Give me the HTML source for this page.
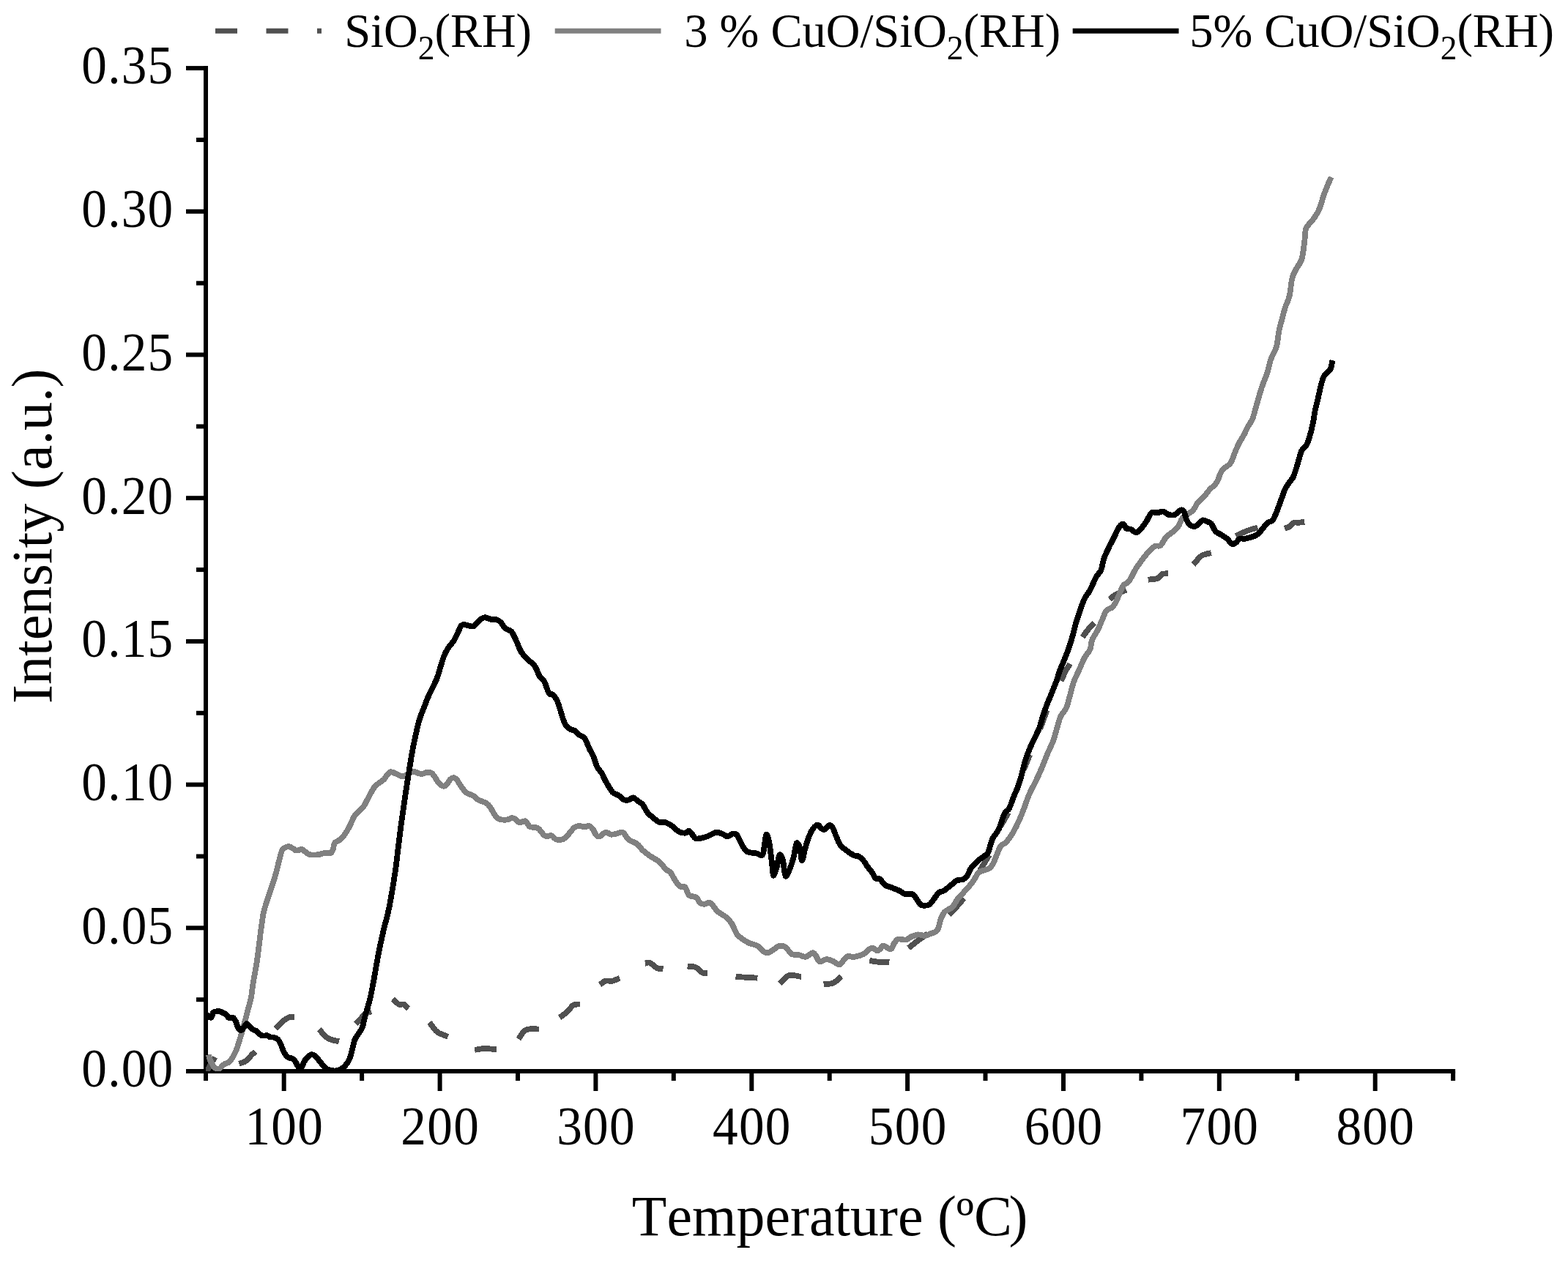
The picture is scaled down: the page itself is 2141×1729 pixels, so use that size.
<!DOCTYPE html>
<html lang="en"><head><meta charset="utf-8"><title>TPR profiles</title>
<style>html,body{margin:0;padding:0;background:#fff}body{width:2141px;height:1729px;overflow:hidden}svg{display:block}</style>
</head><body>
<svg width="2141" height="1729" viewBox="0 0 2141 1729">
<rect width="2141" height="1729" fill="#fff"/>
<g stroke="#000" stroke-width="6" fill="none" stroke-linecap="butt">
<line x1="281.0" y1="90.1" x2="281.0" y2="1466.0"/>
<line x1="278.0" y1="1463.0" x2="1987.1" y2="1463.0"/>
<line x1="254.0" y1="1463.0" x2="281.0" y2="1463.0"/>
<line x1="268.0" y1="1365.2" x2="281.0" y2="1365.2"/>
<line x1="254.0" y1="1267.3" x2="281.0" y2="1267.3"/>
<line x1="268.0" y1="1169.5" x2="281.0" y2="1169.5"/>
<line x1="254.0" y1="1071.6" x2="281.0" y2="1071.6"/>
<line x1="268.0" y1="973.8" x2="281.0" y2="973.8"/>
<line x1="254.0" y1="875.9" x2="281.0" y2="875.9"/>
<line x1="268.0" y1="778.1" x2="281.0" y2="778.1"/>
<line x1="254.0" y1="680.2" x2="281.0" y2="680.2"/>
<line x1="268.0" y1="582.4" x2="281.0" y2="582.4"/>
<line x1="254.0" y1="484.5" x2="281.0" y2="484.5"/>
<line x1="268.0" y1="386.7" x2="281.0" y2="386.7"/>
<line x1="254.0" y1="288.8" x2="281.0" y2="288.8"/>
<line x1="268.0" y1="191.0" x2="281.0" y2="191.0"/>
<line x1="254.0" y1="93.1" x2="281.0" y2="93.1"/>
<line x1="281.0" y1="1463.0" x2="281.0" y2="1476.0"/>
<line x1="387.7" y1="1463.0" x2="387.7" y2="1490.0"/>
<line x1="494.1" y1="1463.0" x2="494.1" y2="1476.0"/>
<line x1="600.6" y1="1463.0" x2="600.6" y2="1490.0"/>
<line x1="707.0" y1="1463.0" x2="707.0" y2="1476.0"/>
<line x1="813.4" y1="1463.0" x2="813.4" y2="1490.0"/>
<line x1="919.8" y1="1463.0" x2="919.8" y2="1476.0"/>
<line x1="1026.3" y1="1463.0" x2="1026.3" y2="1490.0"/>
<line x1="1132.7" y1="1463.0" x2="1132.7" y2="1476.0"/>
<line x1="1239.1" y1="1463.0" x2="1239.1" y2="1490.0"/>
<line x1="1345.5" y1="1463.0" x2="1345.5" y2="1476.0"/>
<line x1="1452.0" y1="1463.0" x2="1452.0" y2="1490.0"/>
<line x1="1558.4" y1="1463.0" x2="1558.4" y2="1476.0"/>
<line x1="1664.8" y1="1463.0" x2="1664.8" y2="1490.0"/>
<line x1="1771.2" y1="1463.0" x2="1771.2" y2="1476.0"/>
<line x1="1877.7" y1="1463.0" x2="1877.7" y2="1490.0"/>
<line x1="1984.1" y1="1463.0" x2="1984.1" y2="1476.0"/>
</g>
<clipPath id="plot"><rect x="281.0" y="0" width="1860.0" height="1463.0"/></clipPath>
<g fill="none" stroke-linejoin="round" stroke-width="7.8" clip-path="url(#plot)" shape-rendering="crispEdges">
<g stroke="#505050" stroke-linecap="butt">
<path d="M293.4,1443.7 L282.4,1463.1"/>
<path d="M326.5,1452.7C327.9,1452.2 332.6,1450.8 334.7,1449.7C336.8,1448.6 337.7,1447.4 339.2,1445.9C340.7,1444.4 342.1,1442.3 343.7,1440.7C345.3,1439.1 347.8,1437.0 348.6,1436.2"/>
<path d="M376.6,1404.8C377.7,1403.6 380.9,1399.6 383.3,1397.4C385.7,1395.2 388.6,1392.8 390.8,1391.4C393.1,1390.0 394.9,1389.2 396.8,1388.8C398.7,1388.4 401.1,1389.0 402.0,1389.1"/>
<path d="M435.9,1406.0C437.9,1408.0 443.7,1415.5 448.2,1418.2C452.7,1420.9 460.4,1421.6 462.9,1422.3"/>
<path d="M485.8,1398.6C488.0,1396.3 495.4,1387.5 498.9,1384.7C502.4,1381.9 505.6,1382.0 507.0,1381.5"/>
<path d="M536.5,1364.3C537.9,1365.5 542.1,1370.4 544.6,1371.6C547.1,1372.8 549.0,1370.6 551.2,1371.6C553.4,1372.6 556.6,1376.4 557.7,1377.4"/>
<path d="M586.5,1396.2C588.2,1398.4 592.6,1405.9 596.8,1409.2C601.0,1412.5 609.3,1414.7 611.8,1415.8"/>
<path d="M648.2,1433.9C650.5,1433.6 657.2,1432.1 662.2,1432.0C667.2,1431.9 675.5,1433.2 678.1,1433.5"/>
<path d="M708.0,1419.0C709.7,1416.9 713.6,1408.7 718.3,1406.4C723.0,1404.2 733.0,1405.7 736.0,1405.5"/>
<path d="M764.0,1389.6C765.7,1388.4 771.2,1385.0 774.3,1382.2C777.4,1379.4 779.7,1374.6 782.7,1372.8C785.7,1371.0 790.5,1371.7 792.1,1371.5"/>
<path d="M819.1,1344.8C820.4,1344.0 823.8,1340.5 826.6,1339.7C829.4,1338.9 832.7,1340.3 836.0,1339.7C839.3,1339.1 844.5,1336.6 846.2,1336.0"/>
<path d="M880.8,1315.8C881.9,1315.7 884.5,1313.8 887.3,1314.9C890.1,1316.0 894.6,1321.0 897.6,1322.4C900.6,1323.8 904.2,1323.2 905.5,1323.3"/>
<path d="M938.7,1319.6C940.6,1319.8 946.5,1319.6 949.9,1321.1C953.3,1322.6 956.5,1327.3 959.3,1328.5C962.0,1329.7 965.2,1328.5 966.4,1328.5"/>
<path d="M1004.5,1333.9 L1034.4,1335.7"/>
<path d="M1064.9,1343.3C1066.9,1341.4 1072.3,1333.6 1077.1,1332.1C1081.9,1330.5 1091.1,1333.7 1093.9,1334.0"/>
<path d="M1124.7,1344.3C1126.9,1344.0 1133.8,1344.2 1137.8,1342.4C1141.8,1340.6 1147.1,1335.1 1149.0,1333.6"/>
<path d="M1187.3,1311.9C1189.3,1312.2 1195.0,1313.4 1199.5,1313.8C1204.0,1314.2 1211.9,1314.3 1214.4,1314.4"/>
<path d="M1240.6,1294.7C1242.8,1293.0 1249.2,1287.8 1253.6,1284.5C1257.9,1281.2 1264.5,1276.7 1266.7,1275.1"/>
<path d="M1295.7,1249.0C1297.4,1247.3 1302.6,1242.4 1306.0,1238.7C1309.4,1235.0 1314.5,1228.6 1316.2,1226.6"/>
<path d="M1337.7,1189.2 L1350.8,1167.7"/>
<path d="M1366.3,1128.5 L1377.0,1109.8"/>
<path d="M1397.7,1051.5 L1406.2,1030.9"/>
<path d="M1420.2,995.4 L1429.5,970.2"/>
<path d="M1449.1,930.0C1450.0,927.8 1452.7,920.8 1454.7,916.9C1456.7,913.0 1460.2,908.4 1461.3,906.7"/>
<path d="M1478.1,870.2C1479.3,868.5 1482.9,863.3 1485.6,860.0C1488.2,856.7 1492.6,852.2 1494.0,850.6"/>
<path d="M1515.5,818.8C1516.8,817.7 1519.3,814.4 1523.0,812.2C1526.7,810.0 1535.4,806.8 1537.9,805.7"/>
<path d="M1567.8,791.7C1570.0,791.4 1577.8,791.0 1580.9,789.8C1584.0,788.5 1584.2,785.3 1586.5,784.2C1588.8,783.1 1593.5,783.4 1594.9,783.3"/>
<path d="M1629.5,771.1C1631.4,769.1 1636.7,761.6 1640.7,759.0C1644.8,756.4 1651.6,755.8 1653.8,755.2"/>
<path d="M1687.4,731.9C1690.2,730.6 1699.2,726.3 1704.2,724.4C1709.2,722.5 1715.1,721.3 1717.3,720.7"/>
<path d="M1754.0,721.7C1755.1,721.3 1758.3,720.7 1760.5,719.4C1762.7,718.1 1764.8,714.7 1767.0,713.8C1769.2,712.9 1771.2,714.0 1773.6,713.8C1775.9,713.6 1779.8,712.9 1781.1,712.7"/>
</g>
<path stroke="#808080" d="M285.0,1440.3C285.2,1441.4 285.7,1444.5 286.5,1446.7C287.3,1448.9 288.8,1451.5 289.9,1453.4C291.0,1455.3 291.8,1456.8 292.9,1457.9C294.0,1459.0 295.4,1459.6 296.6,1459.8C297.9,1460.0 299.0,1459.9 300.4,1459.0C301.8,1458.1 303.4,1455.6 304.8,1454.5C306.2,1453.4 307.2,1453.0 308.6,1452.3C310.0,1451.6 311.6,1451.7 313.1,1450.4C314.6,1449.1 316.1,1446.6 317.5,1444.4C318.9,1442.2 320.2,1439.5 321.3,1437.0C322.4,1434.5 323.3,1432.4 324.3,1429.5C325.3,1426.6 326.3,1423.2 327.3,1419.8C328.3,1416.4 329.5,1412.8 330.5,1409.3C331.5,1405.8 332.4,1402.5 333.4,1398.9C334.4,1395.3 335.2,1391.7 336.3,1387.7C337.4,1383.7 338.5,1379.5 339.7,1374.9C340.9,1370.3 342.4,1365.2 343.3,1360.0C344.2,1354.8 344.2,1351.5 345.4,1343.9C346.6,1336.3 349.2,1323.4 350.6,1314.4C352.0,1305.4 352.7,1298.6 353.8,1289.9C354.9,1281.2 356.1,1270.3 357.4,1262.1C358.6,1253.9 358.4,1251.4 361.3,1240.9C364.2,1230.4 371.8,1209.6 375.0,1198.9C378.2,1188.2 379.1,1182.7 380.8,1176.5C382.5,1170.3 383.6,1164.8 385.0,1161.6C386.4,1158.4 387.8,1158.3 389.4,1157.4C391.0,1156.5 393.1,1156.1 394.9,1156.3C396.7,1156.5 398.5,1157.9 400.1,1158.8C401.7,1159.7 402.7,1161.4 404.7,1161.6C406.7,1161.8 410.2,1159.8 412.2,1160.1C414.2,1160.4 415.0,1162.2 416.9,1163.4C418.8,1164.6 420.4,1166.6 423.4,1167.2C426.3,1167.8 431.5,1167.5 434.6,1167.2C437.7,1166.9 439.3,1165.7 442.1,1165.3C444.9,1164.9 449.3,1165.8 451.4,1164.9C453.5,1164.0 453.9,1162.0 454.8,1159.7C455.7,1157.4 455.4,1153.5 457.0,1151.3C458.6,1149.1 462.1,1148.6 464.5,1146.6C466.9,1144.6 468.9,1142.2 471.1,1139.1C473.3,1136.0 475.6,1131.8 477.6,1127.9C479.6,1124.0 481.2,1119.1 483.2,1115.8C485.2,1112.5 487.5,1110.6 489.7,1108.3C491.9,1106.0 494.3,1104.6 496.3,1101.8C498.3,1099.0 499.9,1095.2 501.9,1091.5C503.9,1087.8 506.7,1082.4 508.4,1079.4C510.1,1076.5 510.6,1075.5 512.2,1073.8C513.8,1072.1 515.8,1070.7 517.8,1069.1C519.8,1067.5 522.4,1066.3 524.3,1064.4C526.2,1062.5 527.5,1059.6 529.0,1057.9C530.5,1056.2 531.6,1054.3 533.6,1054.1C535.6,1053.9 538.6,1055.9 541.1,1056.9C543.6,1057.9 546.4,1060.0 548.6,1060.3C550.8,1060.6 552.3,1059.6 554.2,1058.8C556.1,1058.0 557.9,1056.3 559.8,1055.4C561.7,1054.5 563.5,1053.5 565.4,1053.6C567.3,1053.7 569.1,1055.5 571.0,1056.0C572.9,1056.5 574.7,1057.1 576.6,1056.9C578.5,1056.8 580.2,1055.3 582.2,1055.1C584.2,1054.8 586.9,1054.5 588.8,1055.4C590.7,1056.3 591.7,1058.4 593.4,1060.7C595.1,1063.0 597.0,1066.9 599.0,1069.1C601.0,1071.3 603.7,1073.5 605.6,1073.8C607.5,1074.1 608.7,1072.5 610.2,1070.9C611.8,1069.3 613.5,1065.9 614.9,1064.4C616.3,1063.0 617.3,1062.2 618.7,1062.2C620.1,1062.2 621.6,1062.6 623.3,1064.4C625.0,1066.2 626.7,1069.8 628.9,1072.8C631.1,1075.8 633.6,1079.9 636.4,1082.2C639.2,1084.5 642.9,1084.8 645.7,1086.5C648.5,1088.2 650.1,1090.6 653.2,1092.4C656.3,1094.2 661.6,1095.2 664.4,1097.1C667.2,1099.0 668.1,1100.9 670.0,1103.6C671.9,1106.2 673.7,1110.5 675.6,1113.0C677.5,1115.5 678.4,1117.5 681.2,1118.6C684.0,1119.7 689.4,1119.8 692.4,1119.5C695.4,1119.2 697.1,1117.2 699.0,1117.1C700.9,1116.9 702.0,1117.6 703.7,1118.6C705.4,1119.6 707.0,1122.8 709.3,1123.3C711.6,1123.8 715.4,1120.5 717.7,1121.4C720.0,1122.3 720.5,1127.3 723.3,1128.9C726.1,1130.5 731.2,1129.1 734.6,1131.2C738.0,1133.3 740.8,1139.7 743.9,1141.4C747.0,1143.1 750.7,1140.6 753.2,1141.4C755.7,1142.2 756.9,1145.2 758.9,1146.1C760.9,1147.0 763.2,1147.3 765.4,1147.0C767.6,1146.7 769.7,1145.9 771.9,1144.2C774.1,1142.5 776.5,1139.1 778.5,1136.8C780.5,1134.5 782.1,1131.7 784.1,1130.2C786.1,1128.7 788.3,1128.2 790.6,1128.0C792.9,1127.8 795.8,1129.3 798.1,1129.3C800.4,1129.3 802.7,1127.5 804.6,1128.0C806.5,1128.5 807.7,1130.0 809.3,1132.1C810.9,1134.2 812.5,1138.8 814.0,1140.5C815.5,1142.2 816.4,1143.0 818.6,1142.4C820.8,1141.8 824.4,1137.3 827.0,1136.8C829.6,1136.3 832.0,1139.3 834.5,1139.6C837.0,1139.9 839.4,1139.1 842.0,1138.6C844.6,1138.1 847.6,1135.4 850.4,1136.8C853.2,1138.2 855.5,1144.4 858.8,1147.0C862.1,1149.6 866.9,1150.2 870.0,1152.6C873.1,1154.9 874.7,1158.4 877.5,1161.1C880.3,1163.8 883.1,1165.9 886.8,1168.5C890.5,1171.1 896.2,1173.8 899.9,1176.9C903.6,1180.0 906.6,1184.7 909.2,1187.2C911.9,1189.7 913.6,1189.2 915.8,1191.9C918.0,1194.6 920.1,1200.0 922.3,1203.1C924.5,1206.2 926.7,1209.2 928.9,1210.6C931.1,1212.0 933.4,1209.5 935.4,1211.5C937.4,1213.5 938.5,1220.4 941.0,1222.7C943.5,1225.0 947.9,1223.8 950.4,1225.5C952.9,1227.2 954.1,1231.4 956.0,1233.0C957.9,1234.6 959.3,1234.8 961.6,1234.9C963.9,1235.0 966.9,1231.7 970.0,1233.4C973.1,1235.1 976.6,1241.9 980.2,1245.1C983.8,1248.3 988.4,1249.9 991.5,1252.6C994.6,1255.2 996.4,1257.1 998.9,1261.0C1001.4,1264.9 1003.9,1272.4 1006.4,1276.0C1008.9,1279.6 1011.1,1280.5 1013.9,1282.5C1016.7,1284.5 1019.8,1286.5 1023.2,1288.1C1026.6,1289.6 1031.0,1289.8 1034.4,1291.8C1037.8,1293.8 1041.3,1298.6 1043.8,1300.2C1046.3,1301.8 1047.2,1301.8 1049.4,1301.2C1051.6,1300.6 1054.3,1298.1 1056.8,1296.5C1059.3,1294.9 1061.6,1292.3 1064.3,1291.8C1067.0,1291.3 1069.9,1291.8 1072.7,1293.7C1075.5,1295.6 1078.1,1301.3 1081.1,1303.0C1084.1,1304.7 1087.3,1303.4 1090.5,1304.0C1093.7,1304.6 1096.8,1307.2 1100.0,1306.8C1103.2,1306.3 1107.4,1301.4 1109.8,1301.3C1112.2,1301.2 1113.0,1304.0 1114.5,1306.0C1116.0,1308.0 1116.8,1312.7 1119.1,1313.4C1121.4,1314.1 1125.5,1310.2 1128.5,1310.1C1131.5,1309.9 1134.0,1311.3 1136.9,1312.5C1139.9,1313.7 1143.7,1317.4 1146.2,1317.2C1148.7,1317.0 1149.9,1313.5 1151.8,1311.6C1153.7,1309.7 1155.1,1306.8 1157.4,1306.0C1159.7,1305.2 1162.2,1307.4 1165.8,1306.9C1169.4,1306.4 1175.5,1304.9 1178.9,1303.2C1182.3,1301.5 1184.2,1298.0 1186.4,1296.6C1188.6,1295.2 1190.1,1294.4 1192.0,1294.7C1193.9,1295.0 1195.9,1298.3 1197.6,1298.5C1199.3,1298.7 1200.9,1296.9 1202.3,1295.7C1203.7,1294.5 1203.7,1291.3 1206.0,1291.4C1208.3,1291.5 1213.8,1296.7 1216.3,1296.2C1218.8,1295.7 1219.2,1290.5 1220.9,1288.2C1222.6,1285.9 1223.9,1283.4 1226.6,1282.6C1229.2,1281.8 1233.8,1284.0 1236.8,1283.5C1239.8,1283.0 1241.5,1280.6 1244.3,1279.4C1247.1,1278.2 1250.5,1276.7 1253.6,1276.4C1256.7,1276.2 1260.2,1278.1 1263.0,1277.9C1265.8,1277.7 1267.7,1276.3 1270.5,1275.1C1273.3,1273.9 1277.5,1273.8 1279.8,1270.5C1282.1,1267.2 1282.8,1259.7 1284.5,1255.5C1286.2,1251.3 1287.4,1248.0 1290.1,1245.2C1292.8,1242.4 1297.5,1241.7 1300.4,1238.7C1303.4,1235.8 1305.0,1231.1 1307.8,1227.5C1310.6,1223.9 1313.8,1221.1 1317.2,1217.2C1320.6,1213.3 1325.3,1208.3 1328.4,1204.1C1331.5,1199.9 1333.6,1194.5 1335.8,1192.0C1338.0,1189.5 1339.0,1190.2 1341.5,1189.2C1344.0,1188.2 1348.3,1187.7 1350.8,1186.0C1353.3,1184.3 1353.9,1183.8 1356.4,1178.9C1358.9,1174.0 1362.9,1161.2 1365.7,1156.5C1368.5,1151.8 1370.6,1153.7 1373.2,1150.9C1375.8,1148.1 1378.8,1144.2 1381.6,1139.7C1384.4,1135.2 1387.3,1129.4 1390.0,1123.8C1392.7,1118.2 1395.0,1112.4 1397.5,1106.0C1400.0,1099.6 1402.2,1092.0 1405.0,1085.5C1407.8,1079.0 1411.3,1073.1 1414.3,1066.8C1417.3,1060.5 1420.3,1054.0 1423.0,1047.7C1425.7,1041.4 1427.9,1034.9 1430.4,1029.0C1432.9,1023.1 1435.7,1018.1 1437.9,1012.2C1440.1,1006.3 1441.8,999.1 1443.5,993.5C1445.2,987.9 1446.2,983.0 1448.2,978.6C1450.2,974.2 1453.7,971.8 1455.7,967.4C1457.7,963.0 1458.6,958.3 1460.3,952.4C1462.0,946.5 1463.7,938.1 1465.9,931.9C1468.1,925.7 1470.9,920.7 1473.4,915.1C1475.9,909.5 1478.4,903.0 1480.9,898.3C1483.4,893.6 1486.7,891.0 1488.4,887.0C1490.1,883.0 1489.3,878.7 1491.2,874.0C1493.1,869.3 1497.3,863.7 1499.6,859.0C1501.9,854.3 1503.3,850.1 1505.2,845.9C1507.1,841.7 1508.5,836.6 1510.8,833.8C1513.1,831.0 1516.9,831.4 1519.2,829.1C1521.5,826.8 1522.9,823.5 1524.8,819.8C1526.7,816.0 1528.8,810.0 1530.4,806.6C1532.0,803.2 1532.3,801.3 1534.2,799.1C1536.1,796.9 1538.9,797.2 1541.7,793.5C1544.5,789.8 1547.9,781.7 1551.0,776.7C1554.1,771.7 1557.5,767.3 1560.3,763.6C1563.1,759.9 1565.0,757.2 1567.8,754.3C1570.6,751.3 1574.4,747.4 1577.2,745.9C1580.0,744.4 1582.1,747.0 1584.6,745.0C1587.1,743.0 1589.3,736.9 1592.1,733.8C1594.9,730.7 1598.6,728.8 1601.4,726.3C1604.2,723.8 1606.7,721.9 1608.9,718.8C1611.1,715.7 1612.3,710.4 1614.5,707.6C1616.7,704.8 1619.5,703.9 1622.0,702.0C1624.5,700.1 1627.3,698.9 1629.5,696.4C1631.7,693.9 1632.6,690.1 1635.1,687.0C1637.6,683.9 1641.6,680.8 1644.4,677.7C1647.2,674.6 1649.1,671.5 1651.9,668.4C1654.7,665.3 1658.4,663.4 1661.2,659.0C1664.0,654.6 1665.6,646.6 1668.7,642.2C1671.8,637.9 1677.1,636.6 1679.9,632.9C1682.7,629.2 1683.6,624.2 1685.5,619.8C1687.4,615.4 1688.9,611.1 1691.1,606.7C1693.3,602.3 1696.4,597.7 1698.6,593.6C1700.8,589.5 1702.3,585.8 1704.2,582.4C1706.1,579.0 1708.3,576.3 1709.8,573.1C1711.3,569.9 1711.7,567.5 1713.0,563.0C1714.3,558.5 1716.0,552.3 1717.7,546.4C1719.4,540.5 1721.3,533.6 1723.3,527.7C1725.3,521.8 1727.8,517.1 1729.8,510.9C1731.8,504.7 1733.2,496.6 1735.4,490.4C1737.6,484.2 1741.0,480.1 1742.9,473.5C1744.8,466.9 1745.3,457.3 1746.6,451.1C1747.8,444.9 1749.0,441.5 1750.4,436.2C1751.8,430.9 1753.3,424.7 1755.0,419.4C1756.7,414.1 1759.0,410.9 1760.6,404.4C1762.2,397.8 1762.8,386.3 1764.4,380.1C1766.0,373.9 1767.8,371.4 1770.0,367.0C1772.2,362.6 1775.5,360.2 1777.4,354.0C1779.3,347.8 1780.3,336.6 1781.2,329.7C1782.1,322.8 1781.8,317.1 1783.0,312.9C1784.2,308.7 1786.8,307.0 1788.7,304.5C1790.6,302.0 1792.1,301.2 1794.3,297.9C1796.5,294.6 1799.4,290.4 1801.7,284.8C1804.0,279.2 1805.7,271.4 1808.3,264.3C1810.9,257.2 1816.0,245.6 1817.6,241.9"/>
<path stroke="#000" d="M280.9,1384.7C281.5,1385.2 283.6,1386.8 284.7,1387.7C285.8,1388.6 286.8,1390.0 287.7,1389.9C288.6,1389.8 289.3,1388.2 289.9,1386.9C290.5,1385.7 290.4,1383.3 291.4,1382.4C292.4,1381.5 294.4,1381.5 295.9,1381.3C297.4,1381.1 298.9,1380.9 300.4,1381.3C301.9,1381.7 303.3,1382.8 304.8,1383.5C306.3,1384.2 308.1,1384.7 309.3,1385.8C310.6,1386.9 310.8,1389.2 312.3,1389.9C313.8,1390.6 316.7,1389.0 318.3,1389.9C319.9,1390.8 321.0,1393.1 322.0,1395.1C323.0,1397.1 323.4,1399.9 324.3,1401.8C325.2,1403.7 326.3,1405.5 327.3,1406.3C328.3,1407.1 329.1,1407.5 330.2,1406.7C331.3,1406.0 332.9,1403.2 334.0,1401.8C335.1,1400.4 335.9,1398.1 337.0,1398.1C338.1,1398.1 339.2,1400.4 340.7,1401.8C342.2,1403.2 344.3,1405.2 345.9,1406.3C347.5,1407.4 348.6,1407.0 350.4,1408.2C352.1,1409.5 354.8,1412.7 356.4,1413.8C358.0,1414.9 358.7,1414.5 360.1,1414.6C361.5,1414.7 363.1,1413.9 364.6,1414.2C366.1,1414.5 367.5,1416.0 369.1,1416.4C370.7,1416.8 372.6,1416.2 374.3,1416.8C376.1,1417.4 378.1,1418.3 379.6,1419.8C381.1,1421.3 382.2,1423.4 383.3,1425.8C384.4,1428.2 385.2,1431.5 386.3,1434.0C387.4,1436.5 388.8,1439.0 390.0,1440.7C391.2,1442.4 392.4,1443.7 393.8,1444.4C395.2,1445.2 396.8,1444.5 398.3,1445.2C399.8,1446.0 401.3,1447.2 402.7,1448.9C404.1,1450.7 405.4,1453.8 406.5,1455.7C407.6,1457.6 408.4,1460.6 409.5,1460.5C410.6,1460.4 412.0,1457.1 413.2,1454.9C414.4,1452.7 414.9,1449.8 416.9,1447.4C418.9,1445.0 422.8,1440.9 425.3,1440.3C427.8,1439.7 429.6,1441.7 431.8,1443.6C434.0,1445.5 436.2,1449.2 438.4,1451.8C440.6,1454.4 442.7,1457.5 444.9,1459.1C447.1,1460.7 449.3,1461.0 451.5,1461.6C453.7,1462.1 455.6,1462.7 458.0,1462.4C460.4,1462.1 463.5,1461.7 466.2,1459.9C468.9,1458.1 472.1,1455.1 474.3,1451.8C476.5,1448.5 477.6,1445.5 479.2,1440.3C480.8,1435.1 482.5,1425.3 484.2,1420.7C485.9,1416.1 487.3,1415.5 489.1,1412.5C490.9,1409.5 493.2,1407.0 494.8,1402.7C496.4,1398.4 497.1,1392.9 498.9,1386.4C500.7,1379.9 503.5,1371.4 505.4,1363.5C507.3,1355.6 508.5,1348.5 510.3,1339.0C512.1,1329.5 513.9,1317.8 516.1,1306.3C518.3,1294.8 521.2,1281.2 523.7,1270.3C526.2,1259.4 528.5,1254.0 531.1,1240.9C533.7,1227.8 537.4,1205.3 539.5,1191.5C541.6,1177.7 542.3,1169.0 543.7,1157.8C545.1,1146.6 546.5,1135.1 548.0,1124.2C549.5,1113.3 551.0,1102.7 552.5,1092.4C554.0,1082.1 555.5,1072.8 557.1,1062.5C558.7,1052.2 560.5,1040.5 562.2,1030.8C563.9,1021.1 565.6,1012.7 567.4,1004.6C569.2,996.5 571.0,988.4 572.9,982.2C574.8,976.0 576.3,972.9 578.5,967.3C580.7,961.7 583.0,955.3 586.0,948.6C589.0,941.9 593.9,933.1 596.4,927.0C598.9,920.9 599.5,917.1 601.1,912.1C602.7,907.1 604.1,901.6 605.8,897.2C607.5,892.8 609.1,889.6 611.4,885.9C613.7,882.1 617.5,878.4 619.8,874.7C622.1,871.0 623.7,866.9 625.4,863.5C627.1,860.1 628.5,855.9 630.1,854.2C631.7,852.5 632.7,853.1 634.7,853.2C636.7,853.4 640.2,854.8 642.2,855.1C644.2,855.4 645.2,856.0 646.9,855.1C648.6,854.2 650.6,851.3 652.5,849.5C654.4,847.7 656.4,845.5 658.1,844.5C659.8,843.5 660.8,843.1 662.8,843.3C664.8,843.5 667.7,845.3 670.2,845.8C672.7,846.3 675.5,845.7 677.7,846.3C679.9,846.9 681.3,847.6 683.3,849.5C685.3,851.4 687.3,855.7 689.8,857.9C692.3,860.1 695.9,860.1 698.3,862.6C700.6,865.1 701.7,868.4 703.9,872.9C706.1,877.4 708.8,885.4 711.3,889.7C713.8,894.1 715.7,895.7 718.8,899.0C721.9,902.3 727.0,905.2 730.0,909.3C733.0,913.3 734.4,919.7 736.6,923.3C738.8,926.9 740.9,926.9 743.1,930.8C745.3,934.7 747.7,943.8 749.6,946.7C751.5,949.7 752.6,947.1 754.3,948.5C756.0,949.9 758.2,951.8 759.9,955.1C761.6,958.4 763.0,963.4 764.6,968.1C766.2,972.8 767.7,979.1 769.2,983.1C770.8,987.1 772.2,990.2 773.9,992.4C775.6,994.6 777.6,995.3 779.5,996.2C781.4,997.1 783.2,996.8 785.1,998.0C787.0,999.2 788.5,1001.9 790.7,1003.6C792.9,1005.3 795.9,1005.2 798.2,1008.3C800.5,1011.4 802.7,1018.1 804.7,1022.3C806.7,1026.5 808.7,1029.5 810.4,1033.5C812.1,1037.5 813.1,1042.8 815.0,1046.6C816.9,1050.3 819.6,1052.6 821.6,1056.0C823.6,1059.4 824.7,1062.9 827.2,1067.2C829.7,1071.5 833.7,1079.0 836.5,1082.1C839.3,1085.2 841.4,1084.1 844.0,1085.8C846.6,1087.5 849.9,1091.3 852.4,1092.4C854.9,1093.5 856.9,1092.9 858.9,1092.4C860.9,1091.9 862.6,1089.1 864.5,1089.2C866.4,1089.3 867.9,1091.7 870.1,1093.3C872.3,1094.9 875.3,1096.2 877.6,1098.9C879.9,1101.6 881.5,1106.7 884.0,1109.7C886.5,1112.8 889.8,1115.0 892.4,1117.2C895.0,1119.4 897.4,1121.9 899.9,1122.8C902.4,1123.7 904.6,1122.0 907.4,1122.8C910.2,1123.6 913.4,1125.2 916.7,1127.4C920.0,1129.6 923.9,1134.1 927.0,1135.8C930.1,1137.5 933.1,1137.8 935.4,1137.7C937.7,1137.6 939.1,1134.3 941.0,1134.9C942.9,1135.5 944.9,1139.6 946.6,1141.4C948.3,1143.2 948.2,1145.3 951.3,1145.5C954.4,1145.7 960.9,1143.9 965.3,1142.4C969.6,1141.0 974.0,1137.4 977.4,1136.8C980.8,1136.2 983.1,1137.7 985.8,1138.6C988.4,1139.5 990.8,1142.4 993.3,1142.4C995.8,1142.4 998.6,1138.9 1000.8,1138.6C1003.0,1138.3 1004.7,1138.6 1006.4,1140.5C1008.1,1142.4 1009.2,1146.4 1011.1,1149.8C1013.0,1153.2 1015.6,1158.7 1017.6,1161.1C1019.6,1163.5 1020.7,1163.5 1023.2,1164.2C1025.7,1164.9 1029.6,1164.8 1032.6,1165.4C1035.6,1166.0 1039.1,1169.4 1041.0,1167.6C1042.9,1165.8 1042.9,1159.2 1043.8,1154.5C1044.7,1149.8 1045.5,1140.2 1046.6,1139.6C1047.7,1139.0 1049.1,1144.3 1050.3,1150.8C1051.5,1157.3 1053.1,1171.3 1054.0,1178.8C1054.9,1186.3 1054.8,1194.7 1055.9,1195.6C1057.0,1196.5 1059.2,1189.1 1060.6,1184.4C1062.0,1179.7 1062.9,1169.1 1064.3,1167.6C1065.7,1166.0 1067.6,1170.3 1069.0,1175.1C1070.4,1179.9 1071.0,1195.0 1072.7,1196.6C1074.4,1198.1 1077.4,1188.9 1079.3,1184.4C1081.2,1179.9 1082.5,1175.0 1083.9,1169.5C1085.3,1164.0 1086.3,1153.6 1087.7,1151.7C1089.1,1149.8 1091.1,1154.4 1092.3,1158.3C1093.5,1162.2 1093.9,1175.1 1095.1,1175.1C1096.3,1175.1 1098.0,1163.7 1099.5,1158.4C1101.0,1153.1 1102.5,1147.8 1104.2,1143.4C1105.9,1139.0 1107.8,1135.0 1109.8,1132.2C1111.8,1129.4 1114.4,1126.8 1116.3,1126.6C1118.2,1126.3 1119.4,1129.6 1121.0,1130.7C1122.6,1131.8 1123.8,1133.7 1125.7,1133.1C1127.6,1132.5 1130.3,1127.5 1132.2,1127.0C1134.1,1126.5 1135.4,1127.9 1136.9,1130.3C1138.5,1132.7 1139.8,1137.6 1141.5,1141.5C1143.2,1145.4 1144.7,1150.3 1147.2,1153.7C1149.7,1157.1 1153.4,1159.7 1156.5,1162.1C1159.6,1164.5 1163.1,1166.8 1165.8,1168.1C1168.5,1169.3 1170.2,1168.4 1172.4,1169.6C1174.6,1170.8 1176.9,1172.9 1178.9,1175.2C1180.9,1177.5 1182.5,1180.8 1184.5,1183.6C1186.5,1186.4 1189.2,1189.3 1191.1,1192.0C1193.0,1194.7 1194.0,1198.1 1195.7,1199.5C1197.4,1200.9 1199.1,1198.9 1201.3,1200.4C1203.5,1202.0 1206.0,1206.8 1208.8,1208.8C1211.6,1210.8 1215.0,1211.2 1218.1,1212.5C1221.2,1213.8 1224.5,1214.9 1227.5,1216.3C1230.5,1217.7 1233.0,1220.1 1235.9,1220.9C1238.9,1221.7 1242.7,1220.0 1245.2,1220.9C1247.7,1221.9 1248.9,1224.2 1250.8,1226.6C1252.7,1228.9 1254.4,1233.3 1256.4,1235.0C1258.4,1236.7 1260.8,1236.8 1263.0,1236.8C1265.2,1236.8 1267.3,1236.7 1269.5,1235.0C1271.7,1233.3 1274.1,1229.2 1276.1,1226.6C1278.1,1223.9 1279.5,1220.8 1281.7,1219.1C1283.9,1217.4 1286.3,1218.0 1289.1,1216.3C1291.9,1214.6 1295.5,1211.1 1298.5,1208.8C1301.5,1206.5 1304.1,1203.6 1306.9,1202.3C1309.7,1201.0 1313.0,1202.1 1315.3,1201.0C1317.6,1199.9 1319.0,1198.5 1320.9,1195.7C1322.8,1193.0 1324.0,1187.9 1326.5,1184.5C1329.0,1181.1 1333.0,1177.7 1335.8,1175.2C1338.6,1172.7 1341.1,1171.3 1343.3,1169.6C1345.5,1167.9 1347.2,1168.2 1348.9,1164.9C1350.6,1161.6 1352.3,1153.6 1353.6,1150.0C1354.8,1146.4 1354.7,1146.4 1356.4,1143.4C1358.1,1140.4 1361.4,1137.5 1363.9,1132.2C1366.4,1126.9 1369.0,1116.4 1371.3,1111.7C1373.6,1107.0 1375.7,1108.2 1377.9,1104.2C1380.1,1100.2 1382.4,1092.4 1384.4,1087.4C1386.4,1082.4 1388.2,1079.3 1390.0,1074.3C1391.8,1069.3 1393.5,1063.5 1395.2,1057.5C1396.9,1051.5 1398.1,1044.4 1400.0,1038.4C1401.9,1032.4 1404.3,1026.6 1406.4,1021.6C1408.5,1016.6 1410.3,1013.2 1412.5,1008.5C1414.7,1003.8 1417.5,998.5 1419.4,993.5C1421.3,988.5 1422.0,983.9 1423.7,978.6C1425.4,973.3 1427.9,966.5 1429.7,961.8C1431.5,957.1 1432.4,955.6 1434.4,950.6C1436.4,945.6 1439.7,937.8 1441.9,931.9C1444.1,926.0 1445.3,920.7 1447.4,915.1C1449.5,909.5 1452.3,903.6 1454.4,898.3C1456.5,893.0 1458.4,888.0 1460.0,883.3C1461.6,878.6 1462.7,875.2 1464.1,870.2C1465.5,865.2 1466.7,859.3 1468.4,853.4C1470.1,847.5 1472.4,840.6 1474.4,834.7C1476.5,828.8 1478.5,822.6 1480.7,817.9C1483.0,813.2 1485.2,811.7 1487.9,806.7C1490.6,801.7 1494.3,792.6 1496.9,787.9C1499.5,783.2 1501.7,782.6 1503.4,778.6C1505.1,774.6 1505.4,768.6 1507.1,763.6C1508.8,758.6 1511.4,753.4 1513.6,748.7C1515.8,744.0 1518.0,740.0 1520.2,735.6C1522.4,731.2 1525.0,725.6 1526.7,722.5C1528.4,719.4 1529.2,718.0 1530.4,716.9C1531.7,715.8 1533.0,715.2 1534.2,716.0C1535.5,716.8 1536.2,720.5 1537.9,721.6C1539.6,722.8 1542.2,722.0 1544.5,722.9C1546.8,723.8 1549.0,728.2 1551.9,727.2C1554.9,726.2 1559.6,720.2 1562.2,716.9C1564.8,713.6 1566.1,710.4 1567.8,707.6C1569.5,704.8 1570.3,701.4 1572.5,700.1C1574.7,698.9 1578.2,700.4 1580.9,700.1C1583.6,699.9 1585.9,698.1 1588.4,698.6C1590.9,699.1 1593.2,702.2 1595.8,702.9C1598.4,703.6 1601.5,703.9 1604.2,702.9C1606.9,701.9 1609.7,697.6 1611.7,696.8C1613.7,696.0 1615.0,696.2 1616.4,698.3C1617.8,700.4 1618.7,706.4 1620.1,709.5C1621.5,712.6 1622.8,715.4 1624.8,716.9C1626.8,718.4 1630.1,719.3 1632.3,718.8C1634.5,718.3 1636.2,715.5 1637.9,714.1C1639.6,712.7 1640.8,710.7 1642.5,710.4C1644.2,710.1 1646.2,711.5 1648.1,712.3C1650.0,713.1 1651.9,712.9 1653.8,715.1C1655.7,717.3 1657.2,722.8 1659.4,725.3C1661.6,727.8 1664.2,728.3 1666.8,730.0C1669.4,731.7 1672.5,733.4 1675.2,735.6C1677.9,737.8 1680.5,742.3 1682.7,743.1C1684.9,743.9 1686.6,741.5 1688.3,740.3C1690.0,739.0 1691.0,736.4 1693.0,735.6C1695.0,734.8 1696.8,736.4 1700.5,735.6C1704.2,734.8 1711.7,732.9 1715.4,730.9C1719.1,728.9 1720.4,726.3 1722.9,723.5C1725.4,720.7 1727.9,716.3 1730.4,714.1C1732.9,711.9 1735.6,713.0 1737.8,710.4C1740.0,707.8 1741.5,702.8 1743.4,698.3C1745.3,693.8 1747.1,688.3 1749.0,683.3C1750.9,678.3 1752.7,672.4 1754.6,668.4C1756.5,664.4 1758.3,661.8 1760.2,659.0C1762.1,656.2 1763.9,655.5 1765.8,651.5C1767.7,647.5 1769.6,640.6 1771.5,634.7C1773.4,628.8 1774.9,620.7 1777.1,616.0C1779.3,611.3 1782.5,610.7 1784.5,606.7C1786.5,602.7 1787.9,597.1 1789.4,591.8C1790.9,586.5 1792.4,579.7 1793.4,574.9C1794.4,570.1 1794.1,568.4 1795.2,563.0C1796.3,557.6 1798.5,549.2 1800.0,542.7C1801.5,536.2 1802.9,529.0 1804.3,524.0C1805.7,519.0 1806.4,516.1 1808.4,512.8C1810.4,509.5 1814.6,507.8 1816.4,504.4C1818.2,501.0 1819.0,494.2 1819.5,492.2"/>
</g>
<g font-family="'Liberation Serif', 'Times New Roman', serif" fill="#000" style="font-kerning:none;font-variant-ligatures:none">
<text transform="translate(237.5,1484.3) scale(0.93,1)" font-size="74.5" text-anchor="end" letter-spacing="1.35">0.00</text>
<text transform="translate(237.5,1288.6) scale(0.93,1)" font-size="74.5" text-anchor="end" letter-spacing="1.35">0.05</text>
<text transform="translate(237.5,1092.9) scale(0.93,1)" font-size="74.5" text-anchor="end" letter-spacing="1.35">0.10</text>
<text transform="translate(237.5,897.2) scale(0.93,1)" font-size="74.5" text-anchor="end" letter-spacing="1.35">0.15</text>
<text transform="translate(237.5,701.5) scale(0.93,1)" font-size="74.5" text-anchor="end" letter-spacing="1.35">0.20</text>
<text transform="translate(237.5,505.8) scale(0.93,1)" font-size="74.5" text-anchor="end" letter-spacing="1.35">0.25</text>
<text transform="translate(237.5,310.1) scale(0.93,1)" font-size="74.5" text-anchor="end" letter-spacing="1.35">0.30</text>
<text transform="translate(237.5,114.4) scale(0.93,1)" font-size="74.5" text-anchor="end" letter-spacing="1.35">0.35</text>
<text transform="translate(388.3,1563.2) scale(0.93,1)" font-size="74.5" text-anchor="middle" letter-spacing="1.35">100</text>
<text transform="translate(601.2,1563.2) scale(0.93,1)" font-size="74.5" text-anchor="middle" letter-spacing="1.35">200</text>
<text transform="translate(814.0,1563.2) scale(0.93,1)" font-size="74.5" text-anchor="middle" letter-spacing="1.35">300</text>
<text transform="translate(1026.9,1563.2) scale(0.93,1)" font-size="74.5" text-anchor="middle" letter-spacing="1.35">400</text>
<text transform="translate(1239.7,1563.2) scale(0.93,1)" font-size="74.5" text-anchor="middle" letter-spacing="1.35">500</text>
<text transform="translate(1452.6,1563.2) scale(0.93,1)" font-size="74.5" text-anchor="middle" letter-spacing="1.35">600</text>
<text transform="translate(1665.4,1563.2) scale(0.93,1)" font-size="74.5" text-anchor="middle" letter-spacing="1.35">700</text>
<text transform="translate(1878.3,1563.2) scale(0.93,1)" font-size="74.5" text-anchor="middle" letter-spacing="1.35">800</text>
<text transform="translate(1133.2,1687.0) scale(0.993,1)" font-size="78.4" text-anchor="middle">Temperature (<tspan dy="2.6">º</tspan><tspan dy="-2.6">C</tspan><tspan dx="-4.3">)</tspan></text>
<text transform="translate(70.1,732.2) rotate(-90) scale(0.996,1)" font-size="78.4" text-anchor="middle">Intensity (a.u.)</text>
<text transform="translate(470.2,64.3) scale(0.978,1)" font-size="66" text-anchor="start">SiO<tspan font-size="46.5" dy="16.5">2</tspan><tspan dy="-16.5">(RH)</tspan></text>
<text transform="translate(934.2,64.3) scale(0.978,1)" font-size="66" text-anchor="start">3 % CuO/SiO<tspan font-size="46.5" dy="16.5">2</tspan><tspan dy="-16.5">(RH)</tspan></text>
<text transform="translate(1624.2,64.3) scale(0.978,1)" font-size="66" text-anchor="start">5% CuO/SiO<tspan font-size="46.5" dy="16.5">2</tspan><tspan dy="-16.5">(RH)</tspan></text>
</g>
<g fill="none" stroke-width="7">
<line x1="294" y1="42.2" x2="439" y2="42.2" stroke="#505050" stroke-dasharray="30 39.5"/>
<line x1="757.7" y1="42.2" x2="902.5" y2="42.2" stroke="#808080"/>
<line x1="1464.7" y1="42.2" x2="1609.5" y2="42.2" stroke="#000"/>
</g>
</svg>
</body></html>
